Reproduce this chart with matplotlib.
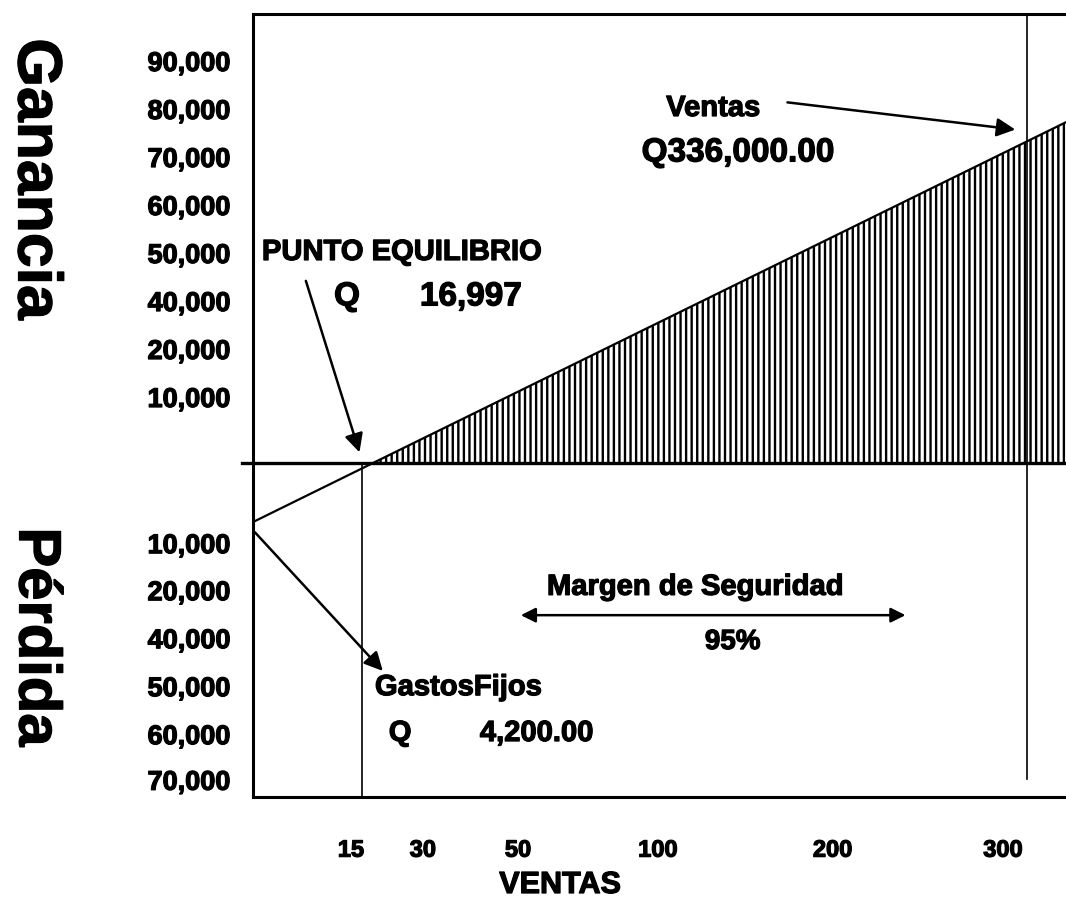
import matplotlib
matplotlib.use("Agg")
import matplotlib.pyplot as plt
import matplotlib.patheffects as pe

plt.rcParams['font.family'] = ['Liberation Sans', 'DejaVu Sans']
plt.rcParams['font.weight'] = 'bold'
plt.rcParams['hatch.linewidth'] = 1.7

# chart values (axis units: x in chart width %, y in thousands-like slots)
xtick_labels = ['15', '30', '50', '100', '200', '300']
xtick_pos = [12.05, 20.9, 32.6, 49.8, 71.3, 92.25]
ytick_labels_up = ['10,000', '20,000', '40,000', '50,000', '60,000', '70,000', '80,000', '90,000']
ytick_pos_up = [13.75, 23.75, 33.75, 43.75, 53.75, 63.75, 73.75, 83.75]
ytick_labels_down = ['10,000', '20,000', '40,000', '50,000', '60,000', '70,000']
ytick_pos_down = [-16.7, -26.5, -36.5, -46.5, -56.5, -66.0]

line_x = [0, 14.76, 100]      # utilidad: gastos fijos -> equilibrio -> fin
line_y = [-12.3, 0, 71.0]
vert_equilibrio_x = 13.4
ventas_x = 95.2

heavy = [pe.withStroke(linewidth=0.9, foreground='black')]

fig = plt.figure(figsize=(10.66, 9.02), dpi=100)
ax = fig.add_axes([253/1066, 1-797/902, 813/1066, 783/902])
ax.set_xlim(0, 100)
ax.set_ylim(-69.58, 93.54)

# ganancia area (hatched)
ax.fill_between(line_x[1:], 0, line_y[1:], facecolor='white', edgecolor='black',
                hatch='|||', linewidth=0)
ax.plot(line_x, line_y, color='black', lw=1.6)

# zero line
ax.plot([-1.35, 100], [0, 0], color='black', lw=2.4, clip_on=False)

# vertical lines
ax.plot([vert_equilibrio_x, vert_equilibrio_x], [0, -69.58], color='black', lw=1.2)
ax.plot([ventas_x, ventas_x], [93.54, -65.8], color='black', lw=1.2)

for s in ['left', 'top', 'bottom']:
    ax.spines[s].set_linewidth(2.2)
ax.spines['right'].set_visible(False)

ax.set_xticks(xtick_pos)
ax.set_xticklabels(xtick_labels, fontsize=17)
ax.set_yticks(ytick_pos_up + ytick_pos_down)
ax.set_yticklabels(ytick_labels_up + ytick_labels_down, fontsize=19.5)
ax.tick_params(axis='both', length=0)
ax.tick_params(axis='y', pad=16)
ax.tick_params(axis='x', pad=30)
for lab in ax.get_xticklabels() + ax.get_yticklabels():
    lab.set_path_effects(heavy)

arrow = dict(arrowstyle='-|>', color='black', lw=1.8, mutation_scale=28)

def label(x, y, s, size, ha='center'):
    ax.text(x, y, s, fontsize=size, ha=ha, va='center', path_effects=heavy)

# Ventas
label(56.6, 73.96, 'Ventas', 21)
label(59.7, 64.6, 'Q336,000.00', 24)
ax.annotate('', xy=(94.1, 69.4), xytext=(65.4, 75.2), arrowprops=arrow)

# Punto de equilibrio
label(1.1, 43.96, 'PUNTO EQUILIBRIO', 21, ha='left')
label(11.56, 34.6, 'Q', 24)
label(26.8, 34.6, '16,997', 24)
ax.annotate('', xy=(13.2, 1.67), xytext=(6.4, 38.5), arrowprops=arrow)

# Margen de seguridad
label(54.4, -25.8, 'Margen de Seguridad', 21)
ax.annotate('', xy=(32.6, -31.7), xytext=(80.6, -31.7),
            arrowprops=dict(arrowstyle='<|-|>', color='black', lw=1.8, mutation_scale=22))
label(59.0, -37.3, '95%', 20)

# Gastos fijos
label(15.0, -46.7, 'GastosFijos', 21, ha='left')
label(18.1, -56.25, 'Q', 21)
label(34.9, -56.25, '4,200.00', 21)
ax.annotate('', xy=(16.2, -43.75), xytext=(0, -14.0), arrowprops=arrow)

fig.text(560/1066, 1-885/902, 'VENTAS', fontsize=22, ha='center', va='center',
         path_effects=heavy)
fig.text(35/1066, 1-179/902, 'Ganancia', fontsize=45, rotation=270, ha='center', va='center',
         path_effects=heavy)
fig.text(35/1066, 1-637/902, 'Pérdida', fontsize=43, rotation=270, ha='center', va='center',
         path_effects=heavy)

fig.savefig('out.png', dpi=100, facecolor='white')
